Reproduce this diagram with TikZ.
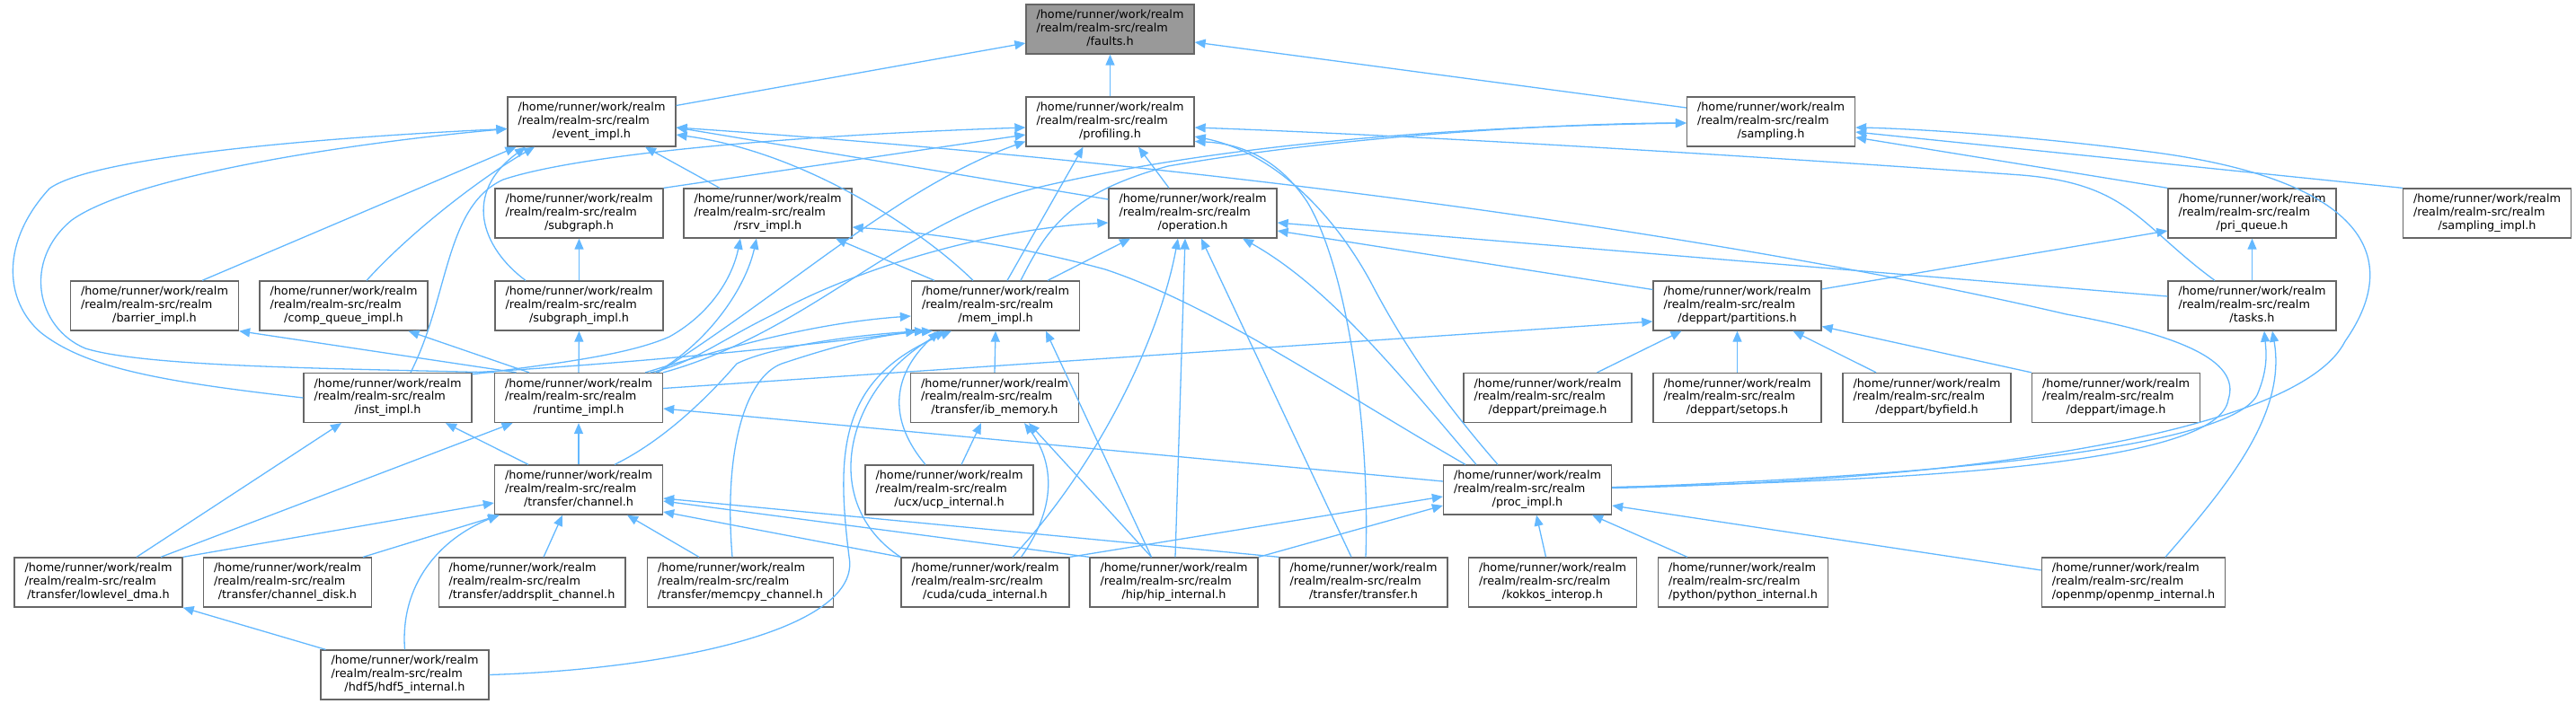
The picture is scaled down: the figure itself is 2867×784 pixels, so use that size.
\documentclass[tikz,border=0pt]{standalone}
\usepackage{fontspec}
\setmainfont{DejaVu Sans}
\usetikzlibrary{arrows.meta}
\definecolor{edgec}{HTML}{63B8FF}
\definecolor{boxc}{HTML}{666666}
\definecolor{rootc}{HTML}{999999}
\newcommand\lbl[1]{\begin{tabular}{@{}l@{}}/home/runner/work/realm\\/realm/realm-src/realm\\\multicolumn{1}{@{}c@{}}{#1}\end{tabular}}
\begin{document}
\begin{tikzpicture}[x=1pt,y=-1pt,
  box/.style={draw=boxc, fill=white, line width=1.3pt, inner xsep=11.5pt, inner ysep=0pt,
    minimum height=55pt, minimum width=187pt, font=\fontsize{12.8}{14.8}\selectfont},
  root/.style={box, fill=rootc},
  edge/.style={draw=edgec, line width=1.3pt, -{Triangle[length=12pt,width=10pt]}}]
\useasboundingbox (0,0) rectangle (2867,784);
% row 0
\node[root] (faults) at (1235.5,32.5) {\lbl{/faults.h}};
% row 1
\node[box] (evt) at (658.5,135.5) {\lbl{/event\_impl.h}};
\node[box] (prof) at (1235.5,135.5) {\lbl{/profiling.h}};
\node[box] (samp) at (1971,135.5) {\lbl{/sampling.h}};
% row 2
\node[box] (subg) at (644.5,237.5) {\lbl{/subgraph.h}};
\node[box] (rsrv) at (854.5,237.5) {\lbl{/rsrv\_impl.h}};
\node[box] (oper) at (1327.5,237.5) {\lbl{/operation.h}};
\node[box] (priq) at (2506.5,237.5) {\lbl{/pri\_queue.h}};
\node[box] (sampi) at (2768,237.5) {\lbl{/sampling\_impl.h}};
% row 3
\node[box] (barr) at (172,340.5) {\lbl{/barrier\_impl.h}};
\node[box] (compq) at (382.5,340.5) {\lbl{/comp\_queue\_impl.h}};
\node[box] (subgi) at (644.5,340.5) {\lbl{/subgraph\_impl.h}};
\node[box] (mem) at (1108,340.5) {\lbl{/mem\_impl.h}};
\node[box] (part) at (1933.5,340.5) {\lbl{/deppart/partitions.h}};
\node[box] (tasks) at (2506.5,340.5) {\lbl{/tasks.h}};
% row 4
\node[box] (inst) at (431.5,443) {\lbl{/inst\_impl.h}};
\node[box] (rt) at (644,443) {\lbl{/runtime\_impl.h}};
\node[box] (ibm) at (1107,443) {\lbl{/transfer/ib\_memory.h}};
\node[box] (preim) at (1722.5,443) {\lbl{/deppart/preimage.h}};
\node[box] (setops) at (1933.5,443) {\lbl{/deppart/setops.h}};
\node[box] (byf) at (2144.5,443) {\lbl{/deppart/byfield.h}};
\node[box] (image) at (2355,443) {\lbl{/deppart/image.h}};
% row 5
\node[box] (chan) at (644,545.5) {\lbl{/transfer/channel.h}};
\node[box] (ucp) at (1056.5,545.5) {\lbl{/ucx/ucp\_internal.h}};
\node[box] (proc) at (1700,545.5) {\lbl{/proc\_impl.h}};
% row 6
\node[box] (lldma) at (109.5,648.5) {\lbl{/transfer/lowlevel\_dma.h}};
\node[box] (chdisk) at (320,648.5) {\lbl{/transfer/channel\_disk.h}};
\node[box] (addr) at (592,648.5) {\lbl{/transfer/addrsplit\_channel.h}};
\node[box] (memcpy) at (824,648.5) {\lbl{/transfer/memcpy\_channel.h}};
\node[box] (cuda) at (1096.5,648.5) {\lbl{/cuda/cuda\_internal.h}};
\node[box] (hip) at (1306.5,648.5) {\lbl{/hip/hip\_internal.h}};
\node[box] (xfer) at (1517.5,648.5) {\lbl{/transfer/transfer.h}};
\node[box] (kokkos) at (1728,648.5) {\lbl{/kokkos\_interop.h}};
\node[box] (python) at (1940,648.5) {\lbl{/python/python\_internal.h}};
\node[box] (openmp) at (2374.5,648.5) {\lbl{/openmp/openmp\_internal.h}};
% row 7
\node[box] (hdf5) at (450.5,751.5) {\lbl{/hdf5/hdf5\_internal.h}};

% ---- edges into faults
\draw[edge] ([yshift=18pt]evt.east) -- ([yshift=-15.5pt]faults.west);
\draw[edge] (prof.north) -- (faults.south);
\draw[edge] ([yshift=15.5pt]samp.west) -- ([yshift=-14.5pt]faults.east);
% ---- event_impl
\draw[edge] (inst.west) .. controls (180,425) and (95,410) .. (45,370) .. controls (5,335) and (0,270) .. (55,210) .. controls (110,170) and (420,150) .. ([yshift=-8pt]evt.west);
\draw[edge] (rt.north west) .. controls (350,410) and (160,408) .. (95,388) .. controls (40,365) and (25,290) .. (80,245) .. controls (150,195) and (400,158) .. ([yshift=-8pt]evt.west);
\draw[edge] ([xshift=53pt]barr.north) -- ([xshift=-84pt]evt.south);
\draw[edge] ([xshift=25.5pt]compq.north) .. controls (460,255) and (540,195) .. ([xshift=-63.5pt]evt.south);
\draw[edge] ([xshift=-59.5pt]subgi.north) .. controls (535,275) and (515,215) .. ([xshift=-73.5pt]evt.south);
\draw[edge] ([xshift=-53.5pt]rsrv.north) -- ([xshift=59.5pt]evt.south);
\draw[edge] ([xshift=-25pt]mem.north) .. controls (1030,260) and (900,170) .. ([yshift=-14.5pt]evt.east);
\draw[edge] ([yshift=15.5pt]oper.west) -- ([yshift=-6.5pt]evt.east);
\draw[edge] ([yshift=3pt]proc.east) .. controls (2150,535) and (2470,515) .. (2480,445) .. controls (2495,400) and (2420,372) .. (2300,350) .. controls (2000,280) and (1450,190) .. ([yshift=-6.5pt]evt.east);
% ---- profiling
\draw[edge] ([xshift=25.5pt]inst.north) .. controls (500,330) and (495,230) .. (560,200) .. controls (650,170) and (900,150) .. ([yshift=-6.5pt]prof.west);
\draw[edge] (subg.north east) -- ([yshift=-14.5pt]prof.west);
\draw[edge] ([xshift=-6pt]rt.north east) .. controls (820,360) and (920,280) .. (990,235) .. controls (1050,195) and (1100,172) .. ([yshift=-22pt]prof.west);
\draw[edge] ([xshift=13pt]mem.north) -- ([xshift=-30pt]prof.south);
\draw[edge] ([xshift=-26.5pt]oper.north) -- ([xshift=31.5pt]prof.south);
\draw[edge] ([xshift=-41.5pt]tasks.north) .. controls (2380,250) and (2370,205) .. (2250,195) .. controls (1900,170) and (1550,150) .. ([yshift=-6.5pt]prof.east);
\draw[edge] ([xshift=-33pt]proc.north) .. controls (1600,440) and (1560,380) .. (1525,313) .. controls (1485,240) and (1420,170) .. ([yshift=-16.5pt]prof.east);
\draw[edge] ([xshift=2.5pt]xfer.north) .. controls (1525,480) and (1500,300) .. (1455,225) .. controls (1425,180) and (1385,160) .. ([yshift=-22pt]prof.east);
% ---- sampling
\draw[edge] ([xshift=28pt]mem.north) .. controls (1165,255) and (1190,215) .. (1300,185) .. controls (1500,150) and (1750,137) .. ([yshift=-1.5pt]samp.west);
\draw[edge] (rt.north east) .. controls (900,370) and (1000,250) .. (1150,210) .. controls (1400,150) and (1700,140) .. ([yshift=-1.5pt]samp.west);
\draw[edge] (priq.north west) -- ([yshift=-17.5pt]samp.east);
\draw[edge] (sampi.north west) -- ([yshift=-11.5pt]samp.east);
\draw[edge] ([yshift=2pt]proc.east) .. controls (2200,535) and (2560,480) .. (2610,380) .. controls (2680,280) and (2620,200) .. (2400,170) .. controls (2250,150) and (2120,143) .. ([yshift=-6.5pt]samp.east);
% ---- subgraph / rsrv
\draw[edge] (subgi.north) -- (subg.south);
\draw[edge] ([yshift=-2pt]inst.north east) .. controls (620,405) and (700,395) .. (745,375) .. controls (790,350) and (815,310) .. ([xshift=-30.5pt]rsrv.south);
\draw[edge] ([xshift=-8pt]rt.north east) .. controls (790,380) and (830,320) .. ([xshift=-12.5pt]rsrv.south);
\draw[edge] ([xshift=-68pt]mem.north) -- ([xshift=75.5pt]rsrv.south);
\draw[edge] ([xshift=-69pt]proc.north) .. controls (1480,430) and (1350,340) .. (1230,300) .. controls (1120,270) and (1020,258) .. ([yshift=-15.5pt]rsrv.east);
% ---- operation
\draw[edge] ([xshift=58pt]mem.north) -- ([xshift=-69.5pt]oper.south);
\draw[edge] ([xshift=-14pt]rt.north east) .. controls (770,405) and (800,380) .. (861,350) .. controls (950,300) and (1100,255) .. ([yshift=-10.5pt]oper.west);
\draw[edge] ([yshift=18pt]part.west) -- ([yshift=-19.5pt]oper.east);
\draw[edge] ([yshift=10.5pt]tasks.west) -- ([yshift=-10.5pt]oper.east);
\draw[edge] ([xshift=30.5pt]cuda.north) .. controls (1220,520) and (1290,380) .. ([xshift=-16.5pt]oper.south);
\draw[edge] ([xshift=1.5pt]hip.north) -- ([xshift=-8.5pt]oper.south);
\draw[edge] ([xshift=-13.5pt]xfer.north) -- ([xshift=9.5pt]oper.south);
\draw[edge] ([xshift=-57pt]proc.north) .. controls (1560,420) and (1480,320) .. ([xshift=55.5pt]oper.south);
% ---- pri_queue
\draw[edge] (tasks.north) -- (priq.south);
\draw[edge] ([yshift=18.5pt]part.east) -- ([yshift=-19.5pt]priq.west);
% ---- row 3 targets
\draw[edge] ([xshift=-69.5pt]rt.north) -- (barr.south east);
\draw[edge] ([xshift=-55pt]rt.north) -- ([xshift=72pt]compq.south);
\draw[edge] (rt.north) -- (subgi.south);
\draw[edge] ([xshift=-20pt]rt.north east) .. controls (800,390) and (900,360) .. ([yshift=-11.5pt]mem.west);
\draw[edge] ([yshift=10.5pt]rt.east) -- ([yshift=-17.5pt]part.west);
\draw[edge] (inst.north east) .. controls (700,405) and (900,385) .. ([xshift=-88pt]mem.south);
\draw[edge] ([xshift=40pt]chan.north) .. controls (740,490) and (790,440) .. (820,405) .. controls (860,385) and (960,372) .. ([xshift=-78pt]mem.south);
\draw[edge] (ibm.north) -- (mem.south);
\draw[edge] ([xshift=-26.5pt]ucp.north) .. controls (990,470) and (990,420) .. ([xshift=-63pt]mem.south);
\draw[edge] ([xshift=-9pt]memcpy.north) .. controls (805,500) and (830,420) .. (870,405) .. controls (930,385) and (980,372) .. ([xshift=-70pt]mem.south);
\draw[edge] (cuda.north west) .. controls (910,560) and (940,430) .. ([xshift=-56pt]mem.south);
\draw[edge] (hdf5.east) .. controls (750,745) and (960,700) .. (945,620) .. controls (930,500) and (935,420) .. ([xshift=-49pt]mem.south);
\draw[edge] ([xshift=-25pt]hip.north) -- ([xshift=56pt]mem.south);
% ---- ib_memory
\draw[edge] ([xshift=13.5pt]ucp.north) -- ([xshift=-15pt]ibm.south);
\draw[edge] ([xshift=40pt]cuda.north) .. controls (1180,560) and (1170,510) .. ([xshift=33pt]ibm.south);
\draw[edge] ([xshift=-25pt]hip.north) -- ([xshift=38pt]ibm.south);
% ---- partitions
\draw[edge] ([xshift=55pt]preim.north) -- ([xshift=-62pt]part.south);
\draw[edge] (setops.north) -- (part.south);
\draw[edge] ([xshift=-56.5pt]byf.north) -- ([xshift=62pt]part.south);
\draw[edge] (image.north west) -- ([yshift=-23pt]part.east);
% ---- tasks
\draw[edge] ([yshift=2.5pt]proc.east) .. controls (2150,530) and (2480,500) .. (2512,440) .. controls (2525,410) and (2522,390) .. ([xshift=13.5pt]tasks.south);
\draw[edge] ([xshift=35.5pt]openmp.north) .. controls (2480,540) and (2545,460) .. ([xshift=22.5pt]tasks.south);
% ---- inst / runtime
\draw[edge] ([xshift=-56pt]chan.north) -- ([xshift=64.5pt]inst.south);
\draw[edge] ([xshift=42.5pt]lldma.north) -- ([xshift=-51.5pt]inst.south);
\draw[edge] (chan.north) -- (rt.south);
\draw[edge] ([xshift=69.5pt]lldma.north) -- ([xshift=-73.5pt]rt.south);
\draw[edge] ([yshift=9.5pt]proc.west) -- ([yshift=-12pt]rt.east);
% ---- channel
\draw[edge] (lldma.north east) -- ([yshift=-14.5pt]chan.west);
\draw[edge] ([xshift=84pt]chdisk.north) -- ([xshift=-88pt]chan.south);
\draw[edge] ([xshift=13pt]addr.north) -- ([xshift=-18pt]chan.south);
\draw[edge] ([xshift=-46pt]memcpy.north) -- ([xshift=54pt]chan.south);
\draw[edge] (cuda.north west) -- ([yshift=-24.5pt]chan.east);
\draw[edge] (hip.north west) -- ([yshift=-12.5pt]chan.east);
\draw[edge] (xfer.north west) -- ([yshift=-9.5pt]chan.east);
\draw[edge] (hdf5.north) .. controls (445,650) and (490,600) .. ([xshift=-89pt]chan.south);
% ---- lowlevel_dma
\draw[edge] ([xshift=-88pt]hdf5.north) -- (lldma.south east);
% ---- proc_impl
\draw[edge] (cuda.north east) -- ([yshift=-7.5pt]proc.west);
\draw[edge] (hip.north east) -- ([yshift=-17.5pt]proc.west);
\draw[edge] ([xshift=-7.5pt]kokkos.north) -- ([xshift=10pt]proc.south);
\draw[edge] ([xshift=-62pt]python.north) -- ([xshift=72pt]proc.south);
\draw[edge] ([yshift=13.5pt]openmp.west) -- ([yshift=-17.5pt]proc.east);
\end{tikzpicture}
\end{document}
